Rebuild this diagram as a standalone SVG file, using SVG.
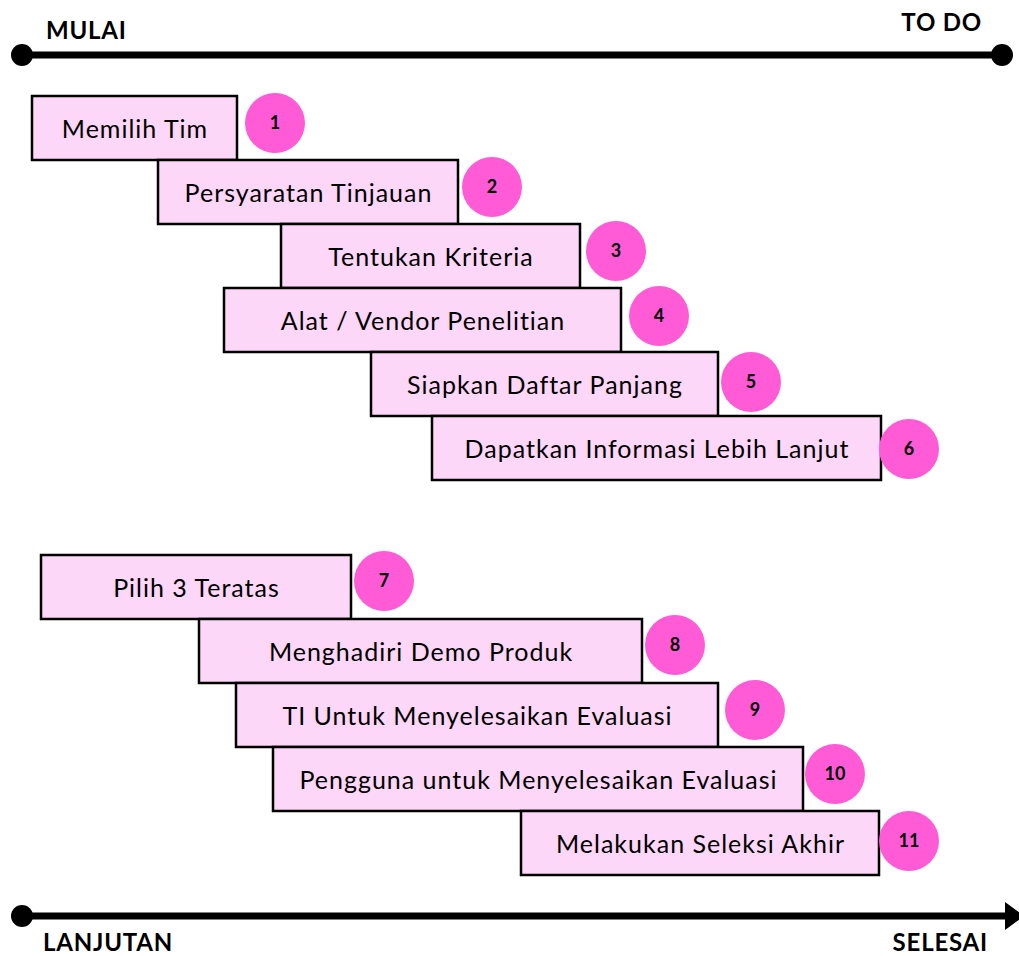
<svg xmlns="http://www.w3.org/2000/svg" width="1019" height="956" viewBox="0 0 1019 956">
<style>
.box{fill:#FDD7F7;stroke:#000;stroke-width:2.5}
.num{fill:#FF5BD7}
.t{font-family:Lato,"Open Sans",sans-serif;font-size:25px;letter-spacing:1px;fill:#000;text-anchor:middle}
.n{font-family:Lato,"Open Sans",sans-serif;font-size:18px;font-weight:bold;fill:#000;text-anchor:middle}
.h{font-family:Lato,"Open Sans",sans-serif;font-size:24px;letter-spacing:0.8px;font-weight:bold;fill:#000}
.ln{stroke:#000;stroke-width:7}
</style>
<rect width="1019" height="956" fill="#fff"/>
<g id="connectors">
<line class="ln" x1="22" y1="55" x2="1002" y2="55"/>
<circle cx="22" cy="55" r="11"/>
<circle cx="1002" cy="55" r="11"/>
<line class="ln" x1="22" y1="916" x2="1008" y2="916"/>
<circle cx="22" cy="916" r="11"/>
<polygon points="1005,902 1005,930 1024,916"/>
</g>
<g id="labels">
<text class="h" x="46" y="39">MULAI</text>
<text class="h" x="982" y="31" text-anchor="end">TO DO</text>
<text class="h" x="43" y="951">LANJUTAN</text>
<text class="h" x="988" y="951" text-anchor="end">SELESAI</text>
</g>
<g id="n1"><rect class="box" x="32" y="96" width="205" height="64"/><text class="t" x="135" y="138">Memilih Tim</text><circle class="num" cx="275" cy="123" r="30"/><text class="n" x="275" y="129">1</text></g>
<g id="n2"><rect class="box" x="158" y="160" width="300" height="64"/><text class="t" x="308.5" y="202">Persyaratan Tinjauan</text><circle class="num" cx="492" cy="187" r="30"/><text class="n" x="492" y="193">2</text></g>
<g id="n3"><rect class="box" x="281" y="224" width="299" height="64"/><text class="t" x="431" y="266">Tentukan Kriteria</text><circle class="num" cx="616" cy="251" r="30"/><text class="n" x="616" y="257">3</text></g>
<g id="n4"><rect class="box" x="224" y="288" width="397" height="64"/><text class="t" x="423" y="330">Alat / Vendor Penelitian</text><circle class="num" cx="659" cy="316" r="30"/><text class="n" x="659" y="322">4</text></g>
<g id="n5"><rect class="box" x="371" y="352" width="347" height="64"/><text class="t" x="545" y="394">Siapkan Daftar Panjang</text><circle class="num" cx="751" cy="382" r="30"/><text class="n" x="751" y="388">5</text></g>
<g id="n6"><rect class="box" x="432" y="416" width="449" height="64"/><text class="t" x="657" y="458">Dapatkan Informasi Lebih Lanjut</text><circle class="num" cx="909" cy="449" r="30"/><text class="n" x="909" y="455">6</text></g>
<g id="n7"><rect class="box" x="41" y="555" width="310" height="64"/><text class="t" x="196.5" y="597">Pilih 3 Teratas</text><circle class="num" cx="384" cy="581" r="30"/><text class="n" x="384" y="587">7</text></g>
<g id="n8"><rect class="box" x="199" y="619" width="443" height="64"/><text class="t" x="421" y="661">Menghadiri Demo Produk</text><circle class="num" cx="675" cy="645" r="30"/><text class="n" x="675" y="651">8</text></g>
<g id="n9"><rect class="box" x="236" y="683" width="482" height="64"/><text class="t" x="477.5" y="725">TI Untuk Menyelesaikan Evaluasi</text><circle class="num" cx="755" cy="710" r="30"/><text class="n" x="755" y="716">9</text></g>
<g id="n10"><rect class="box" x="273" y="747" width="530" height="64"/><text class="t" x="538.5" y="789">Pengguna untuk Menyelesaikan Evaluasi</text><circle class="num" cx="835" cy="774" r="30"/><text class="n" x="835" y="780">10</text></g>
<g id="n11"><rect class="box" x="521" y="811" width="358" height="64"/><text class="t" x="700.5" y="853">Melakukan Seleksi Akhir</text><circle class="num" cx="909" cy="841" r="30"/><text class="n" x="909" y="847">11</text></g>
</svg>
